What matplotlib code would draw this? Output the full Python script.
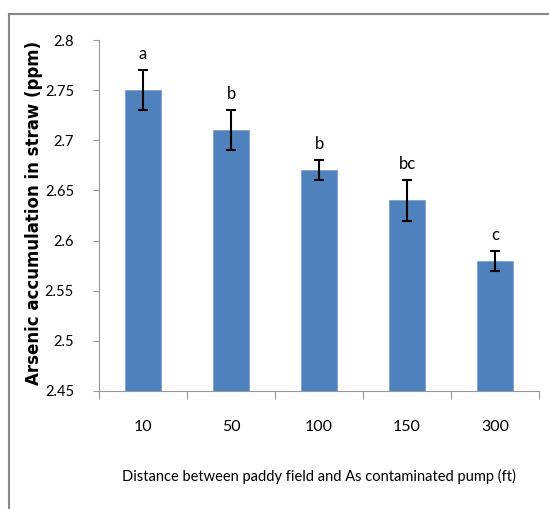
import matplotlib.pyplot as plt
import numpy as np

# Data
distances = ["10", "50", "100", "150", "300"]
arsenic = [2.75, 2.71, 2.67, 2.64, 2.58]
errors = [0.02, 0.02, 0.01, 0.02, 0.01]
letters = ["a", "b", "b", "bc", "c"]
yticks = [2.45, 2.5, 2.55, 2.6, 2.65, 2.7, 2.75, 2.8]

plt.rcParams['font.family'] = ['Lato', 'DejaVu Sans']

fig = plt.figure(figsize=(5.49, 5.09), dpi=100)

# Outer frame (top and left grey lines)
fig.add_artist(plt.Line2D([9/549, 1], [1 - 14/509, 1 - 14/509], color='#888888', lw=1.5))
fig.add_artist(plt.Line2D([9/549, 9/549], [0, 1 - 14/509], color='#888888', lw=1.5))

ax = fig.add_axes([99/549, 1 - 391/509, 440/549, 351/509])

x = np.arange(len(distances))
ax.bar(x, arsenic, width=0.41, color='#4F81BD', edgecolor='#7FA3D0', linewidth=0.6, zorder=2)
ax.errorbar(x, arsenic, yerr=errors, fmt='none', ecolor='black', elinewidth=1.5,
            capsize=3.5, capthick=1.5, zorder=3)

for xi, v, e, lab in zip(x, arsenic, errors, letters):
    ax.text(xi, v + e + 0.008, lab, ha='center', va='bottom', fontsize=12)

ax.set_ylim(2.45, 2.8)
ax.set_xlim(-0.5, len(distances) - 0.5)
ax.set_yticks(yticks)
ax.set_yticklabels([f"{t:g}" for t in yticks], fontsize=10.5)

# x ticks at category boundaries, labels centered
ax.set_xticks(np.arange(-0.5, len(distances)), minor=False)
ax.set_xticklabels([])
ax.set_xticks(x, minor=True)
ax.set_xticklabels(distances, minor=True, fontsize=11.5)
ax.tick_params(axis='x', which='major', length=6, color='#999999', direction='out')
ax.tick_params(axis='x', which='minor', length=0, pad=21)
ax.tick_params(axis='y', length=4, color='#999999', direction='out', pad=14)

for s in ['top', 'right']:
    ax.spines[s].set_visible(False)
for s in ['left', 'bottom']:
    ax.spines[s].set_color('#999999')
    ax.spines[s].set_linewidth(0.8)

ax.set_ylabel("Arsenic accumulation in straw (ppm)", fontsize=12, fontweight='bold',
              family=['DejaVu Sans'])
ax.yaxis.set_label_coords(-0.128, 0.507)
ax.set_xlabel("Distance between paddy field and As contaminated pump (ft)", fontsize=10.5,
              labelpad=25)

fig.savefig("out.png", dpi=100)
